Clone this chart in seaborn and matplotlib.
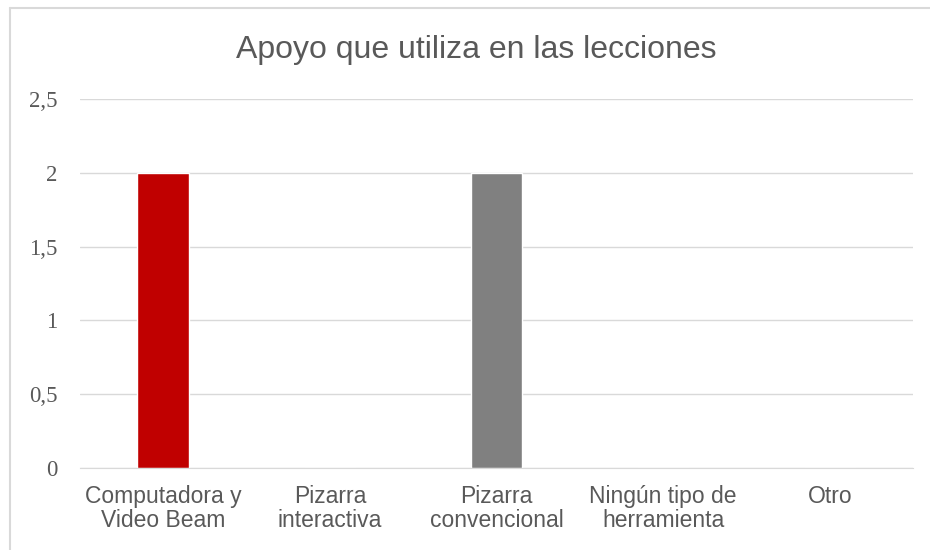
import matplotlib
matplotlib.use("Agg")
import matplotlib.pyplot as plt
from matplotlib.lines import Line2D
from matplotlib.ticker import FuncFormatter
import pandas as pd
import seaborn as sns

sns.set_style("white")
plt.rcParams["font.family"] = ["Liberation Sans", "DejaVu Sans"]

categories = ["Computadora y\nVideo Beam", "Pizarra\ninteractiva", "Pizarra\nconvencional",
              "Ningún tipo de\nherramienta", "Otro"]
values = [2, 0, 2, 0, 0]
bar_colors = ["#C00000", "#C00000", "#808080", "#808080", "#808080"]
title = "Apoyo que utiliza en las lecciones"
y_ticks = [0, 0.5, 1, 1.5, 2, 2.5]

df = pd.DataFrame({"cat": categories, "val": values})

fig = plt.figure(figsize=(9.3, 5.5), dpi=100)
ax = fig.add_axes([80 / 930, 1 - 468 / 550, (913 - 80) / 930, (468 - 99) / 550])

sns.barplot(data=df, x="cat", y="val", hue="cat", palette=bar_colors, legend=False,
            width=0.31, ax=ax, saturation=1)

ax.set_ylim(0, 2.5)
ax.set_xlim(-0.5, len(categories) - 0.5)
ax.set_yticks(y_ticks)
ax.yaxis.set_major_formatter(FuncFormatter(lambda v, p: f"{v:g}".replace(".", ",")))
ax.grid(axis="y", color="#D9D9D9", linewidth=1)
ax.set_axisbelow(True)
for s in ["top", "right", "left"]:
    ax.spines[s].set_visible(False)
ax.spines["bottom"].set_color("#D9D9D9")
ax.set_xlabel("")
ax.set_ylabel("")
ax.tick_params(axis="both", length=0, colors="#595959")
ax.tick_params(axis="y", pad=16)
ax.tick_params(axis="x", pad=12)
for lbl in ax.get_yticklabels():
    lbl.set_fontfamily(["Liberation Serif", "DejaVu Serif"])
    lbl.set_fontsize(16.5)
for lbl in ax.get_xticklabels():
    lbl.set_fontsize(16.5)
    lbl.set_linespacing(1.1)

fig.text(476 / 930, 1 - 50 / 550, title, ha="center", va="center", fontsize=23, color="#595959")

# only top and left edges of the chart frame are visible
fig.add_artist(Line2D([10 / 930, 10 / 930], [0, 1 - 8 / 550], transform=fig.transFigure,
                      color="#D9D9D9", linewidth=1.5))
fig.add_artist(Line2D([10 / 930, 1], [1 - 8 / 550, 1 - 8 / 550], transform=fig.transFigure,
                      color="#D9D9D9", linewidth=1.5))

fig.savefig("out.png", dpi=100)
